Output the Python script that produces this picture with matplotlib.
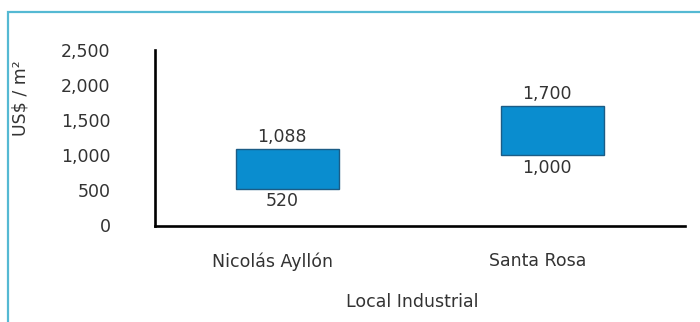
import numpy as np
import matplotlib.pyplot as plt
from matplotlib.patches import Rectangle
from matplotlib.transforms import ScaledTranslation

W, H = 700, 322

# price ranges, US$ per m2
locales = ["Nicolás Ayllón", "Santa Rosa"]
precio_min = [520, 1000]
precio_max = [1088, 1700]
yticks = [0, 500, 1000, 1500, 2000, 2500]

BAR = "#0a8dcf"
EDGE = "#1b5c86"
TXT = "#333333"
FRAME = "#55b9d3"
FS = 12.5

plt.rcParams["font.family"] = ["DejaVu Sans"]

fig = plt.figure(figsize=(W / 100., H / 100.), dpi=100)
fig.patch.set_facecolor("white")

# light blue frame around the panel
fig.patches.append(Rectangle((8 / W, -0.1), 1.2, 1 - 12 / H + 0.1,
                             transform=fig.transFigure, fill=False,
                             edgecolor=FRAME, linewidth=1.6))

ax = fig.add_axes([155 / W, 1 - 226 / H, 530 / W, 176 / H])
x = np.arange(len(locales))
lo = np.array(precio_min)
hi = np.array(precio_max)
ax.bar(x, hi - lo, bottom=lo, width=0.39, color=BAR, edgecolor=EDGE, linewidth=1.0)

for xi, a, b in zip(x, lo, hi):
    ax.annotate(f"{b:,}", (xi, b), xytext=(-4, 9), textcoords="offset points",
                ha="center", va="center", fontsize=FS, color=TXT)
    ax.annotate(f"{a:,}", (xi, a), xytext=(-4, -9), textcoords="offset points",
                ha="center", va="center", fontsize=FS, color=TXT)

ax.set_xlim(-0.5, 1.5)
ax.set_ylim(-10, 2500)
ax.set_yticks(yticks)
ax.set_yticklabels([f"{t:,}" for t in yticks], fontsize=FS, color=TXT)
ax.set_xticks(x)
ax.set_xticklabels(locales, fontsize=FS, color=TXT)
ax.tick_params(axis="both", length=0)
ax.tick_params(axis="y", pad=32)
ax.tick_params(axis="x", pad=19)
shift = ScaledTranslation(-15 / 100., 0, fig.dpi_scale_trans)
for lab in ax.get_xticklabels():
    lab.set_transform(lab.get_transform() + shift)

for s in ["top", "right"]:
    ax.spines[s].set_visible(False)
for s in ["left", "bottom"]:
    ax.spines[s].set_linewidth(1.9)
    ax.spines[s].set_color("black")

fig.text(20 / W, 1 - 98 / H, "US$ / m²", rotation=90, ha="center", va="center",
         fontsize=FS, color=TXT)
fig.text(412 / W, 1 - 302 / H, "Local Industrial", ha="center", va="center",
         fontsize=FS, color=TXT)

fig.savefig("out.png", dpi=100)
